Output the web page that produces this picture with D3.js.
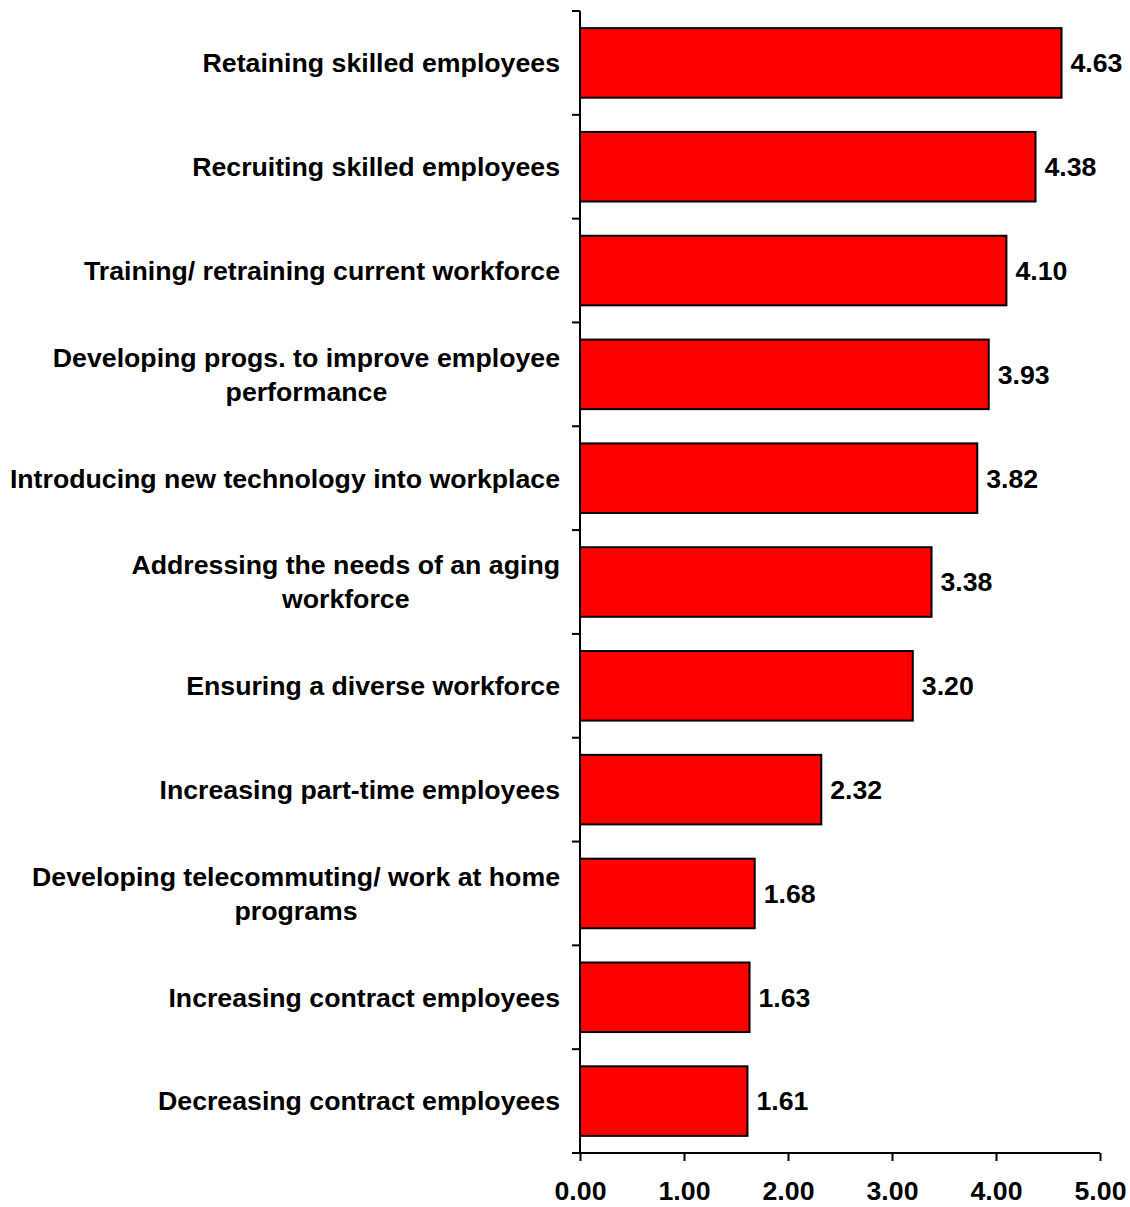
<!DOCTYPE html>
<html>
<head>
<meta charset="utf-8">
<script src="https://cdn.jsdelivr.net/npm/d3@7"></script>
<style>
  html, body { margin: 0; padding: 0; background: #fff; }
  svg text { font-family: "Liberation Sans", Arial, sans-serif; font-weight: bold; fill: #000; }
</style>
</head>
<body>
<svg id="chart" width="1130" height="1207"></svg>
<script>
// Workforce priorities, mean importance ratings
const categories = [
  ["Retaining skilled employees"],
  ["Recruiting skilled employees"],
  ["Training/ retraining current workforce"],
  ["Developing progs. to improve employee", "performance"],
  ["Introducing new technology into workplace"],
  ["Addressing the needs of an aging", "workforce"],
  ["Ensuring a diverse workforce"],
  ["Increasing part-time employees"],
  ["Developing telecommuting/ work at home", "programs"],
  ["Increasing contract employees"],
  ["Decreasing contract employees"]
];
const values = [4.63, 4.38, 4.10, 3.93, 3.82, 3.38, 3.20, 2.32, 1.68, 1.63, 1.61];
const xTicks = [0, 1, 2, 3, 4, 5];

const svg = d3.select("#chart");
const plotLeft = 580, plotRight = 1100, plotTop = 11, plotBottom = 1153;
const fontSize = 26.7;

const x = d3.scaleLinear().domain([0, 5]).range([plotLeft, plotRight]);
const y = d3.scaleBand()
  .domain(d3.range(categories.length))
  .range([plotTop, plotBottom])
  .paddingInner(0.33)
  .paddingOuter(0.165);

// bars
svg.append("g").selectAll("rect")
  .data(values)
  .join("rect")
  .attr("x", x(0))
  .attr("y", (d, i) => y(i))
  .attr("width", d => x(d) - x(0))
  .attr("height", y.bandwidth())
  .attr("fill", "#ff0000")
  .attr("stroke", "#000")
  .attr("stroke-width", 2);

// value labels
svg.append("g").selectAll("text")
  .data(values)
  .join("text")
  .attr("x", d => x(d) + 9)
  .attr("y", (d, i) => y(i) + y.bandwidth() / 2)
  .attr("dy", "0.35em")
  .attr("font-size", fontSize)
  .text(d => d.toFixed(2));

// category axis: line with ticks at band boundaries
const yAxis = svg.append("g");
yAxis.append("line")
  .attr("x1", plotLeft).attr("x2", plotLeft)
  .attr("y1", plotTop).attr("y2", plotBottom)
  .attr("stroke", "#000").attr("stroke-width", 2);
const step = (plotBottom - plotTop) / categories.length;
yAxis.selectAll("line.tick")
  .data(d3.range(categories.length + 1))
  .join("line")
  .attr("class", "tick")
  .attr("x1", plotLeft - 8).attr("x2", plotLeft)
  .attr("y1", i => plotTop + i * step).attr("y2", i => plotTop + i * step)
  .attr("stroke", "#000").attr("stroke-width", 2);

// category labels (multi-line blocks centred, right edge near the axis)
const lineH = 34;
const labelRight = 560;
categories.forEach((lines, i) => {
  const cy = y(i) + y.bandwidth() / 2;
  const t = svg.append("text")
    .attr("font-size", fontSize)
    .attr("text-anchor", "middle");
  const spans = lines.map((s, k) => t.append("tspan")
    .attr("y", cy + (k - (lines.length - 1) / 2) * lineH)
    .attr("dy", "0.35em")
    .text(s));
  const w = d3.max(spans, s => s.node().getComputedTextLength());
  spans.forEach(s => s.attr("x", labelRight - w / 2));
});

// value axis
const xAxis = d3.axisBottom(x)
  .tickValues(xTicks)
  .tickSize(8)
  .tickPadding(20)
  .tickFormat(d3.format(".2f"));
const gx = svg.append("g")
  .attr("transform", `translate(0,${plotBottom})`)
  .call(xAxis);
gx.select(".domain").attr("stroke-width", 2).attr("d", `M${plotLeft},0H${plotRight}`);
gx.selectAll(".tick line").attr("stroke-width", 2);
gx.selectAll(".tick text")
  .attr("font-size", fontSize)
  .attr("font-family", "Liberation Sans, Arial, sans-serif")
  .attr("font-weight", "bold");
</script>
</body>
</html>
